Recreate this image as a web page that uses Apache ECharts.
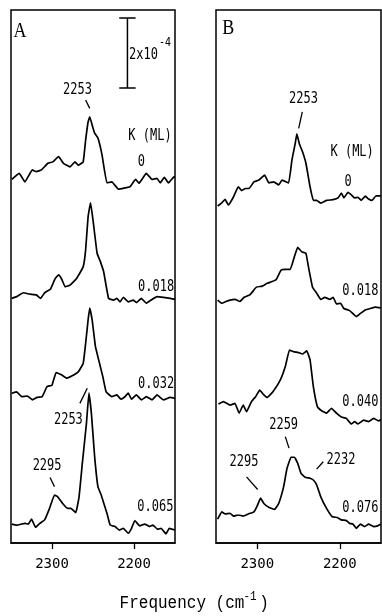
<!DOCTYPE html>
<html>
<head>
<meta charset="utf-8">
<script src="https://cdn.jsdelivr.net/npm/echarts@6/dist/echarts.min.js"></script>
<style>
  html, body { margin: 0; padding: 0; background: #fff; }
  #chart { width: 382px; height: 616px; }
</style>
</head>
<body>
<div id="chart"></div>
<script>
// 单位：吸光度 x1e-4，曲线已按面板里的位置叠加偏移
// ---- panel A ----
const A0_WN = [2349, 2340, 2333, 2324, 2319, 2313, 2305, 2299, 2292, 2286, 2278, 2272, 2268, 2262, 2259, 2256, 2254, 2251, 2248, 2244, 2239, 2233, 2227, 2219, 2205, 2198, 2194, 2185, 2178, 2172, 2168, 2163, 2158, 2152, 2150]
const A0_ABS = [10.39, 10.56, 10.32, 10.66, 10.61, 10.66, 10.85, 10.89, 11.04, 10.85, 10.75, 10.89, 10.8, 10.89, 11.51, 12.03, 12.18, 11.94, 11.71, 11.57, 11.09, 10.29, 10.32, 10.11, 10.18, 10.39, 10.28, 10.56, 10.39, 10.42, 10.29, 10.45, 10.29, 10.45, 10.47]

const A1_WN = [2349, 2343, 2335, 2327, 2319, 2314, 2309, 2302, 2296, 2292, 2288, 2284, 2278, 2270, 2262, 2259, 2256, 2253, 2250, 2245, 2241, 2237, 2231, 2225, 2221, 2217, 2213, 2207, 2201, 2197, 2191, 2185, 2178, 2172, 2164, 2156, 2150]
const A1_ABS = [6.99, 7.04, 7.15, 7.11, 7.09, 6.99, 7.15, 7.25, 7.56, 7.66, 7.53, 7.32, 7.37, 7.56, 7.89, 8.37, 9.32, 9.72, 9.23, 8.28, 8.04, 7.75, 6.99, 6.94, 6.99, 6.89, 7.02, 6.89, 6.94, 6.87, 6.99, 6.85, 6.96, 7.04, 7.02, 6.99, 6.96]

const A2_WN = [2349, 2343, 2337, 2330, 2324, 2318, 2312, 2306, 2300, 2295, 2288, 2282, 2276, 2268, 2262, 2259, 2256, 2254, 2251, 2247, 2242, 2238, 2234, 2227, 2221, 2216, 2211, 2207, 2203, 2197, 2191, 2185, 2178, 2172, 2164, 2156, 2150]
const A2_ABS = [4.28, 4.32, 4.18, 4.2, 4.09, 4.16, 4.18, 4.47, 4.51, 4.87, 4.8, 4.71, 4.77, 4.89, 5.13, 5.7, 6.37, 6.71, 6.37, 5.61, 5.13, 4.75, 4.32, 4.18, 4.23, 4.11, 4.18, 4.28, 4.11, 4.23, 4.09, 4.18, 4.09, 4.23, 4.09, 4.16, 4.13]

const A3_WN = [2349, 2343, 2333, 2329, 2325, 2320, 2315, 2309, 2303, 2297, 2293, 2287, 2281, 2277, 2271, 2267, 2263, 2258, 2255, 2252, 2248, 2244, 2240, 2233, 2229, 2223, 2218, 2213, 2207, 2203, 2199, 2193, 2187, 2181, 2177, 2171, 2167, 2161, 2157, 2150]
const A3_ABS = [0.54, 0.51, 0.56, 0.54, 0.68, 0.45, 0.56, 0.66, 0.99, 1.37, 1.32, 1.13, 0.99, 0.99, 0.87, 1.32, 2.28, 3.42, 4.28, 3.71, 2.47, 1.61, 1.37, 0.85, 0.51, 0.47, 0.37, 0.42, 0.28, 0.42, 0.64, 0.49, 0.54, 0.47, 0.51, 0.39, 0.42, 0.26, 0.42, 0.37]

// ---- panel B ----
const B0_WN = [2348, 2343, 2339, 2335, 2329, 2323, 2319, 2314, 2310, 2304, 2298, 2291, 2286, 2280, 2274, 2270, 2262, 2258, 2254, 2252, 2249, 2245, 2241, 2236, 2232, 2228, 2223, 2216, 2208, 2202, 2198, 2195, 2190, 2186, 2182, 2178, 2174, 2169, 2165, 2161, 2156, 2150]
const B0_ABS = [9.63, 9.72, 9.82, 9.66, 9.88, 10.18, 10.07, 10.13, 10.13, 10.32, 10.37, 10.51, 10.29, 10.32, 10.23, 10.37, 10.29, 10.94, 11.41, 11.69, 11.41, 11.17, 10.85, 10.18, 9.79, 9.79, 9.71, 9.79, 9.81, 9.86, 10.0, 9.86, 10.02, 9.95, 9.86, 9.88, 9.79, 9.91, 9.83, 9.79, 9.92, 9.92]

const B1_WN = [2348, 2343, 2338, 2333, 2327, 2321, 2316, 2309, 2301, 2294, 2288, 2282, 2277, 2271, 2266, 2260, 2255, 2251, 2246, 2241, 2238, 2233, 2228, 2223, 2218, 2212, 2208, 2204, 2199, 2195, 2188, 2180, 2175, 2169, 2163, 2157, 2150]
const B1_ABS = [6.94, 6.85, 6.9, 6.94, 6.96, 6.9, 7.02, 7.09, 7.31, 7.34, 7.42, 7.47, 7.53, 7.8, 7.82, 7.82, 8.18, 8.45, 8.32, 8.28, 7.9, 7.31, 7.14, 6.96, 7.02, 6.96, 7.02, 6.83, 6.85, 6.7, 6.64, 6.47, 6.56, 6.66, 6.7, 6.74, 6.72]

const B2_WN = [2347, 2341, 2333, 2327, 2322, 2317, 2313, 2307, 2302, 2297, 2292, 2288, 2281, 2272, 2266, 2261, 2256, 2250, 2245, 2240, 2236, 2232, 2227, 2222, 2216, 2210, 2204, 2198, 2192, 2186, 2182, 2178, 2171, 2165, 2159, 2153, 2150]
const B2_ABS = [3.97, 4.04, 3.94, 3.99, 3.71, 3.94, 3.75, 4.04, 4.18, 4.37, 4.23, 4.16, 4.32, 4.66, 5.04, 5.51, 5.47, 5.44, 5.4, 5.49, 5.23, 4.47, 3.89, 3.78, 3.71, 3.85, 3.71, 3.6, 3.56, 3.4, 3.47, 3.4, 3.51, 3.47, 3.56, 3.49, 3.53]

const B3_WN = [2348, 2343, 2339, 2333, 2329, 2323, 2317, 2311, 2304, 2300, 2296, 2292, 2286, 2279, 2274, 2268, 2264, 2259, 2255, 2251, 2247, 2242, 2236, 2232, 2228, 2223, 2216, 2209, 2203, 2198, 2192, 2188, 2184, 2180, 2175, 2170, 2165, 2159, 2154, 2150]
const B3_ABS = [0.68, 0.89, 0.83, 0.85, 0.77, 0.8, 0.77, 0.83, 0.89, 1.06, 1.28, 1.13, 1.02, 0.96, 1.13, 1.61, 2.13, 2.45, 2.45, 2.28, 1.99, 1.88, 1.85, 1.8, 1.66, 1.32, 0.99, 0.75, 0.73, 0.66, 0.64, 0.56, 0.54, 0.42, 0.54, 0.47, 0.54, 0.47, 0.49, 0.54]

// 覆盖度标签 K (ML)
const K_A = ['0', '0.018', '0.032', '0.065']
const K_B = ['0', '0.018', '0.040', '0.076']
const K_A_POS = [[2191, 10.89], [2173, 7.31], [2173, 4.54], [2174, 1.04]]
const K_B_POS = [[2190, 10.32], [2175, 7.21], [2175, 4.04], [2175, 1.02]]

// 刻度
const X_TICKS = [2200, 2300]

// 峰位标注 [grid, 文字, 文字位置, 引线起点, 引线终点]
const PEAKS = [
  [0, '2253', [2269, 12.94], [2259, 12.66], [2254, 12.42]],
  [0, '2253', [2280, 3.51], [2266, 3.99], [2257, 4.42]],
  [0, '2295', [2306, 2.2], [2302.4, 1.87], [2297, 1.61]],
  [1, '2253', [2244, 12.69], [2245.4, 12.32], [2249.8, 11.85]],
  [1, '2259', [2268, 3.37], [2266, 3.04], [2261.5, 2.71]],
  [1, '2295', [2316, 2.32], [2313, 1.89], [2299.5, 1.53]],
  [1, '2232', [2198.5, 2.37], [2220, 2.32], [2228, 2.11]]
]

// 标尺 2x10^-4
const SCALE_WN = 2208
const SCALE_FROM = 13
const SCALE_TO = 15

const FONT = 'DejaVu Sans Mono'
const TITLE_FONT = 'Liberation Mono'
const zip = (xs, ys) => xs.map((x, i) => [x, ys[i]])

const chart = echarts.init(document.getElementById('chart'), null, { renderer: 'canvas' })

const makeX = idx => ({
  type: 'value',
  gridIndex: idx,
  min: 2150,
  max: 2350,
  inverse: true,
  splitLine: { show: false },
  axisLine: { lineStyle: { color: '#000', width: 1.5 } },
  axisTick: { customValues: X_TICKS, length: 6, lineStyle: { color: '#000', width: 1.3 } },
  axisLabel: {
    customValues: X_TICKS,
    formatter: v => String(v),
    color: '#000',
    fontFamily: FONT,
    fontSize: 14,
    margin: 14
  }
})
const makeY = idx => ({
  type: 'value',
  gridIndex: idx,
  min: 0,
  max: 15.23,
  show: false
})
const traceSeries = (idx, data) => ({
  type: 'line',
  xAxisIndex: idx,
  yAxisIndex: idx,
  data: data,
  symbol: 'none',
  smooth: 0.1,
  silent: true,
  lineStyle: { color: '#000', width: 1.7 }
})

const series = [
  traceSeries(0, zip(A0_WN, A0_ABS)),
  traceSeries(0, zip(A1_WN, A1_ABS)),
  traceSeries(0, zip(A2_WN, A2_ABS)),
  traceSeries(0, zip(A3_WN, A3_ABS)),
  traceSeries(1, zip(B0_WN, B0_ABS)),
  traceSeries(1, zip(B1_WN, B1_ABS)),
  traceSeries(1, zip(B2_WN, B2_ABS)),
  traceSeries(1, zip(B3_WN, B3_ABS)),
  {
    // 标尺：上横、竖、下横
    type: 'line',
    xAxisIndex: 0,
    yAxisIndex: 0,
    symbol: 'none',
    silent: true,
    lineStyle: { color: '#000', width: 1.5 },
    data: [
      [SCALE_WN + 10, SCALE_TO], [SCALE_WN - 10, SCALE_TO], [SCALE_WN, SCALE_TO],
      [SCALE_WN, SCALE_FROM], [SCALE_WN + 10, SCALE_FROM], [SCALE_WN - 10, SCALE_FROM]
    ]
  }
]

chart.setOption({
  animation: false,
  backgroundColor: '#fff',
  grid: [
    { left: 11, right: 207, top: 10, bottom: 73, show: true, borderColor: '#000', borderWidth: 1.5 },
    { left: 216, right: 1, top: 10, bottom: 73, show: true, borderColor: '#000', borderWidth: 1.5 }
  ],
  xAxis: [makeX(0), makeX(1)],
  yAxis: [makeY(0), makeY(1)],
  series: series
})

/**
 * 文字和引线用坐标系换算到像素
 */
const toPx = (g, p) => chart.convertToPixel({ gridIndex: g }, p)
const txt = (pos, text, font, align, sy) => ({
  type: 'text',
  x: pos[0],
  y: pos[1],
  scaleY: sy || 1,
  silent: true,
  style: {
    text: text,
    font: font,
    fill: '#000',
    align: align || 'center',
    verticalAlign: 'middle'
  }
})
const LBL = '12px "' + FONT + '"'

const graphics = []
graphics.push(txt(toPx(0, [2339, 14.61]), 'A', '18px "Liberation Serif"', 'center', 1.15))
graphics.push(txt(toPx(1, [2335, 14.71]), 'B', '18px "Liberation Serif"', 'center', 1.15))

const sc = toPx(0, [2206, 13.94])
graphics.push(txt(sc, '2x10', LBL, 'left', 1.35))
graphics.push(txt([sc[0] + 30, sc[1] - 13], '-4', '10px "' + FONT + '"', 'left', 1.3))

graphics.push(txt(toPx(0, [2180.5, 11.63]), 'K (ML)', LBL, 'center', 1.35))
graphics.push(txt(toPx(1, [2185, 11.17]), 'K (ML)', LBL, 'center', 1.35))
K_A.forEach((k, i) => graphics.push(txt(toPx(0, K_A_POS[i]), k, LBL, 'center', 1.35)))
K_B.forEach((k, i) => graphics.push(txt(toPx(1, K_B_POS[i]), k, LBL, 'center', 1.35)))

PEAKS.forEach(p => {
  const g = p[0]
  graphics.push(txt(toPx(g, p[2]), p[1], LBL, 'center', 1.3))
  const a = toPx(g, p[3])
  const b = toPx(g, p[4])
  graphics.push({
    type: 'line',
    silent: true,
    shape: { x1: a[0], y1: a[1], x2: b[0], y2: b[1] },
    style: { stroke: '#000', lineWidth: 1.3 }
  })
})

// 横轴标题
graphics.push(txt([182, 603], 'Frequency (cm', '16px "' + TITLE_FONT + '"', 'center', 1.15))
graphics.push(txt([250, 597], '-1', '11px "' + TITLE_FONT + '"', 'center', 1.15))
graphics.push(txt([264, 603], ')', '16px "' + TITLE_FONT + '"', 'center', 1.15))

chart.setOption({ graphic: graphics })
</script>
</body>
</html>
